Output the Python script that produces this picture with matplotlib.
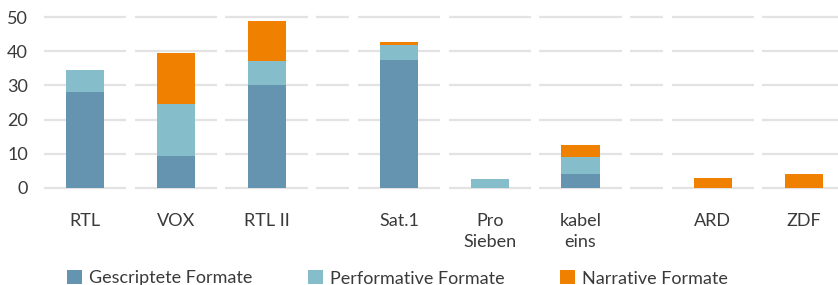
import numpy as np
import matplotlib.pyplot as plt
from matplotlib.patches import Patch

plt.rcParams['font.family'] = ['Lato', 'DejaVu Sans']

# Daten
channels = ["RTL", "VOX", "RTL II", "Sat.1", "Pro\nSieben", "kabel\neins", "ARD", "ZDF"]
gescriptet = [28.0, 9.4, 30.1, 37.5, 0.0, 4.1, 0.0, 0.0]
performativ = [6.4, 15.2, 7.1, 4.4, 2.6, 4.9, 0.0, 0.0]
narrativ = [0.0, 14.9, 11.7, 0.9, 0.0, 3.5, 2.9, 4.0]
group_sizes = [3, 3, 2]
series_names = ["Gescriptete Formate", "Performative Formate", "Narrative Formate"]

colors = ["#6594b1", "#85bdcb", "#f08000"]
text_color = "#3a3a3a"
grid_color = "#e3e3e3"
fs = 13

# Zellen: Kanäle mit Breite 1, schmale Lücken zwischen Gruppen
gap = 0.457
cells = []  # (left, right, is_channel)
pos = -0.5
for gi, n in enumerate(group_sizes):
    for _ in range(n):
        cells.append((pos, pos + 1, True))
        pos += 1
    if gi < len(group_sizes) - 1:
        cells.append((pos, pos + gap, False))
        pos += gap
x = np.array([(l + r) / 2 for l, r, c in cells if c])

W, H = 838, 285
fig = plt.figure(figsize=(W / 100, H / 100), dpi=100)
unit = 90.8
ax_left = 39.6
ax_bottom = H - 187.7
ax_top = H - 17.3
ax = fig.add_axes([ax_left / W, ax_bottom / H, (pos + 0.5) * unit / W, (ax_top - ax_bottom) / H])
ax.set_xlim(-0.5, pos)
ax.set_ylim(0, 50)

# unterbrochene Gitterlinien
pad = 4.25 / unit
for yv in range(0, 51, 10):
    for l, r, c in cells:
        ax.plot([l + pad, r - pad], [yv, yv], color=grid_color, lw=1.6,
                solid_capstyle='butt', zorder=0, clip_on=False)

bw = 0.42
bottom = np.zeros(len(channels))
for vals, col in zip([gescriptet, performativ, narrativ], colors):
    ax.bar(x, vals, bw, bottom=bottom, color=col, zorder=2)
    bottom += np.array(vals)

for s in ax.spines.values():
    s.set_visible(False)
ax.set_xticks(x)
ax.set_xticklabels(channels, fontsize=fs, color=text_color, linespacing=1.4, va='top')
ax.set_yticks(range(0, 51, 10))
ax.set_yticklabels([str(v) for v in range(0, 51, 10)], fontsize=fs, color=text_color)
ax.tick_params(axis='x', length=0, pad=18)
ax.tick_params(axis='y', length=0, pad=8.5)

handles = [Patch(facecolor=c, edgecolor='none') for c in colors]
fig.legend(handles, series_names, loc='lower left', bbox_to_anchor=(67 / W, -1.5 / H),
           ncol=3, frameon=False, fontsize=fs, labelcolor=text_color,
           handlelength=0.82, handleheight=0.82, handletextpad=0.42,
           columnspacing=3.05, borderpad=0, borderaxespad=0)

fig.savefig("out.png", dpi=100)
